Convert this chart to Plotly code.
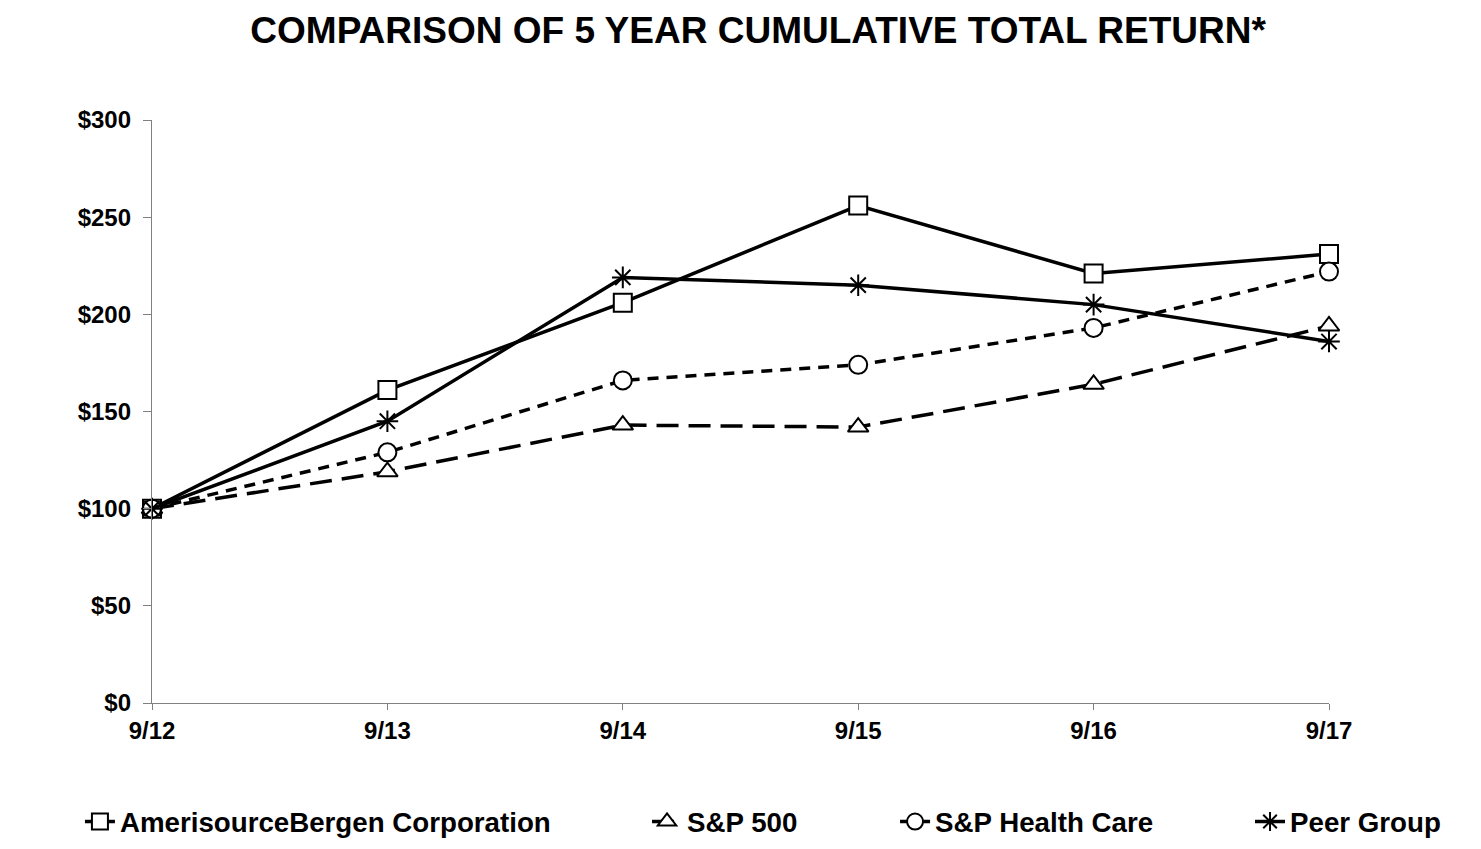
import plotly.graph_objects as go

periods = ["9/12", "9/13", "9/14", "9/15", "9/16", "9/17"]
abc = [100, 161, 206, 256, 221, 231]
sp500 = [100, 119, 143, 142, 164, 194]
sphc = [100, 129, 166, 174, 193, 222]
peer = [100, 145, 219, 215, 205, 186]
y_ticks = [0, 50, 100, 150, 200, 250, 300]
y_labels = ["$" + str(v) for v in y_ticks]

series = [
    ("AmerisourceBergen Corporation", abc, "solid", "square", "white", "legend"),
    ("S&P 500", sp500, "22px,10px", "triangle-up", "white", "legend2"),
    ("S&P Health Care", sphc, "11px,8px", "circle", "white", "legend3"),
    ("Peer Group", peer, "solid", "asterisk-open", "black", "legend4"),
]
legend_x = [0.0491, 0.4362, 0.6055, 0.8478]

xs = list(range(len(periods)))
fig = go.Figure()
for name, vals, dash, sym, fill, lg in series:
    fig.add_trace(go.Scatter(
        x=xs, y=vals, name=name, mode="lines+markers", legend=lg,
        cliponaxis=False,
        line=dict(color="black", width=3.5, dash=dash),
        marker=dict(symbol=sym, size=18, color=fill,
                    line=dict(color="black", width=2)),
    ))

FONT = "Liberation Sans, Arial"
leg_font = dict(size=27.7, family=FONT, weight="bold", color="black")
legends = {}
for i, key in enumerate(["legend", "legend2", "legend3", "legend4"]):
    legends[key] = dict(orientation="h", x=legend_x[i], xanchor="left", xref="container",
                        y=0.0228, yanchor="middle", yref="container", font=leg_font,
                        bgcolor="rgba(0,0,0,0)", itemwidth=30)

fig.update_layout(
    width=1465, height=833,
    paper_bgcolor="white", plot_bgcolor="white",
    margin=dict(l=144, r=144, t=112, b=138, autoexpand=False),
    title=dict(text="COMPARISON OF 5 YEAR CUMULATIVE TOTAL RETURN*",
               x=0.512, xanchor="center", y=0.973, yanchor="middle",
               font=dict(family=FONT, size=37, color="black", weight="bold")),
    font=dict(family=FONT, color="black"),
    showlegend=True,
    **legends,
)
fig.update_xaxes(range=[0, 5], tickvals=xs, ticktext=periods,
                 showgrid=False, zeroline=False, showline=True,
                 linecolor="#808080", linewidth=1.3,
                 ticks="outside", ticklen=6, tickcolor="#808080",
                 tickfont=dict(size=24, weight="bold", color="black"))
fig.update_yaxes(range=[0, 300], tickvals=y_ticks, ticktext=y_labels,
                 showgrid=False, zeroline=False, showline=True,
                 linecolor="#808080", linewidth=1.3,
                 ticks="outside", ticklen=8, tickcolor="#808080",
                 ticklabelstandoff=7,
                 tickfont=dict(size=24, weight="bold", color="black"))

fig.write_html("out.html")
